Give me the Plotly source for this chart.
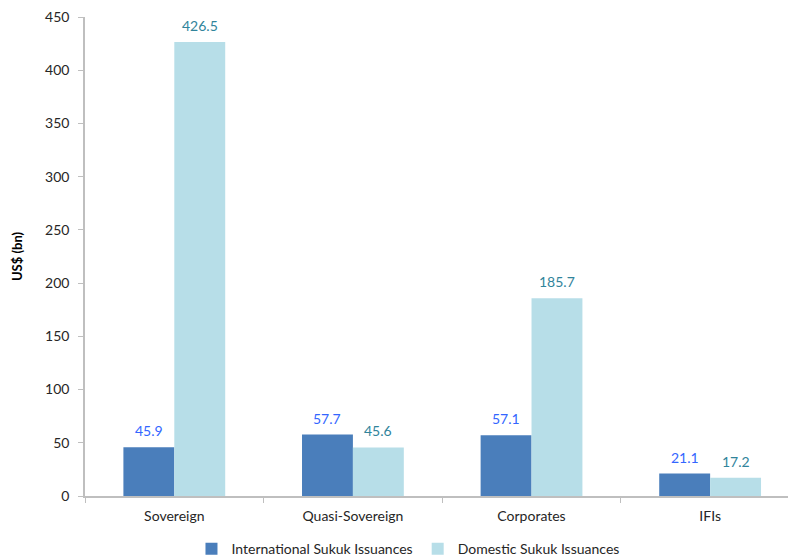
import plotly.graph_objects as go

categories = ["Sovereign", "Quasi-Sovereign", "Corporates", "IFIs"]
international = [45.9, 57.7, 57.1, 21.1]
domestic = [426.5, 45.6, 185.7, 17.2]
y_ticks = [0, 50, 100, 150, 200, 250, 300, 350, 400, 450]

INTL_COLOR = "#4A7EBB"
DOM_COLOR = "#B7DEE8"
INTL_LABEL = "#3366FF"
DOM_LABEL = "#31849B"
FONT = "Lato, Open Sans, sans-serif"
BARGAP = 0.43

fig = go.Figure()
fig.add_bar(x=categories, y=international, name="International Sukuk Issuances",
            marker=dict(color=INTL_COLOR, line=dict(width=0)))
fig.add_bar(x=categories, y=domestic, name="Domestic Sukuk Issuances",
            marker=dict(color=DOM_COLOR, line=dict(width=0)))

# value labels centred over each bar of the group
half = (1 - BARGAP) / 4
for i, cat in enumerate(categories):
    for val, off, col in ((international[i], -half, INTL_LABEL), (domestic[i], half, DOM_LABEL)):
        fig.add_annotation(x=i + off, y=val, xref="x", yref="y", text=f"{val:.1f}",
                           showarrow=False, yanchor="bottom", yshift=6,
                           font=dict(family=FONT, size=14, color=col))

fig.update_layout(
    width=788, height=558,
    margin=dict(l=85, r=0, t=17, b=62, autoexpand=False),
    plot_bgcolor="white", paper_bgcolor="white",
    barmode="group", bargap=BARGAP, bargroupgap=0,
    font=dict(family=FONT, size=14, color="#262626"),
    showlegend=True,
    legend=dict(orientation="h", x=0.243, xref="container", xanchor="left",
                y=0.016, yref="container", yanchor="middle",
                font=dict(family=FONT, size=14, color="#262626"),
                itemwidth=30, tracegroupgap=0),
)
fig.update_xaxes(
    type="category", range=[-0.5, 3.436],
    showline=True, linecolor="#BFBFBF", linewidth=1.5,
    ticks="outside", tickson="boundaries", ticklen=5, tickcolor="#BFBFBF",
    ticklabelstandoff=6,
    showgrid=False, tickfont=dict(family=FONT, size=14, color="#262626"),
)
fig.update_yaxes(
    range=[0, 450], tickvals=y_ticks,
    showline=True, linecolor="#BFBFBF", linewidth=1.5,
    ticks="outside", ticklen=5, tickcolor="#BFBFBF", ticklabelstandoff=6,
    showgrid=False, zeroline=False,
    tickfont=dict(family=FONT, size=14, color="#262626"),
    title=dict(text="<b>US$ (bn)</b>", font=dict(family=FONT, size=13, color="#000000"), standoff=20),
)

fig.write_html("out.html")
